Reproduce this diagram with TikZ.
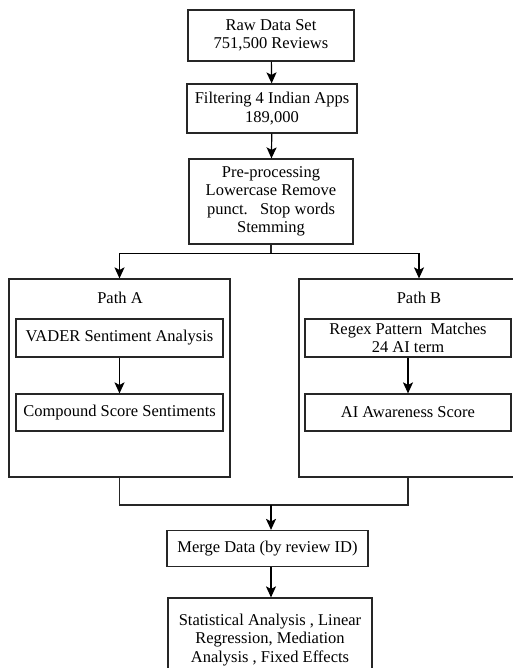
\documentclass[tikz,border=0pt]{standalone}
\usepackage{fontspec}
\setmainfont{Liberation Serif}
\usetikzlibrary{arrows.meta}

\begin{document}
\begin{tikzpicture}[x=1pt,y=-1pt,
	box/.style={draw=black!85,line width=1.2pt,align=center,inner sep=1pt,
		font=\fontsize{16.5}{18.5}\selectfont},
	arr/.style={-{Stealth[length=11pt,width=10pt,inset=2.5pt]},line width=1.2pt},
	link/.style={line width=1.2pt,draw=black!85}]

\useasboundingbox (0,0) rectangle (513,668);

% main column
\node[box,minimum width=166,minimum height=51] (raw) at (271,35.5) {Raw Data Set\\751,500 Reviews};
\node[box,minimum width=170,minimum height=49] (filt) at (272,108.5) {Filtering 4 Indian Apps\\189,000};
\node[box,minimum width=164,minimum height=85] (prep) at (271,201.5) {Pre-processing\\Lowercase Remove\\punct.\ \ \ Stop words\\Stemming};

\draw[arr] (raw) -- (filt);
\draw[arr] (filt) -- (prep);

% the two paths
\node[box,minimum width=221,minimum height=198] (pathA) at (119.5,378) {};
\node[box,minimum width=240,minimum height=198] (pathB) at (419,378) {};
\node[font=\fontsize{16.5}{18.5}\selectfont] (labA) at (120,298) {Path A};
\node[font=\fontsize{16.5}{18.5}\selectfont] (labB) at (419,298) {Path B};

\node[box,minimum width=207,minimum height=38] (vader) at (119.5,338) {VADER Sentiment Analysis};
\node[box,minimum width=207,minimum height=37] (comp) at (119.5,412.5) {Compound Score Sentiments};
\node[box,minimum width=206,minimum height=38] (regex) at (408,338) {Regex Pattern\ \ Matches\\24 AI term};
\node[box,minimum width=206,minimum height=37] (aisc) at (408,412.5) {AI Awareness Score};

\draw[arr] (vader) -- (comp);
\draw[arr] (regex) -- (aisc);

\coordinate (split) at (271,253.5);
\draw[link] (prep.south) -- (split);
\draw[arr] (split) -| (pathA.north);
\draw[arr] (split) -| (pathB.north);

% merge and analysis
\node[box,minimum width=201,minimum height=36] (merge) at (267.5,548.5) {Merge Data (by review ID)};
\node[box,minimum width=204,minimum height=84] (stat) at (270,640) {Statistical Analysis , Linear\\Regression, Mediation\\Analysis , Fixed Effects};

\coordinate (join) at (271,505);
\draw[link] (pathA.south) |- (join);
\draw[link] ([xshift=-11pt]pathB.south) |- (join);
\draw[arr] (join) -- (merge.north -| join);
\draw[arr] (merge.south -| join) -- (stat.north -| join);

\end{tikzpicture}
\end{document}
